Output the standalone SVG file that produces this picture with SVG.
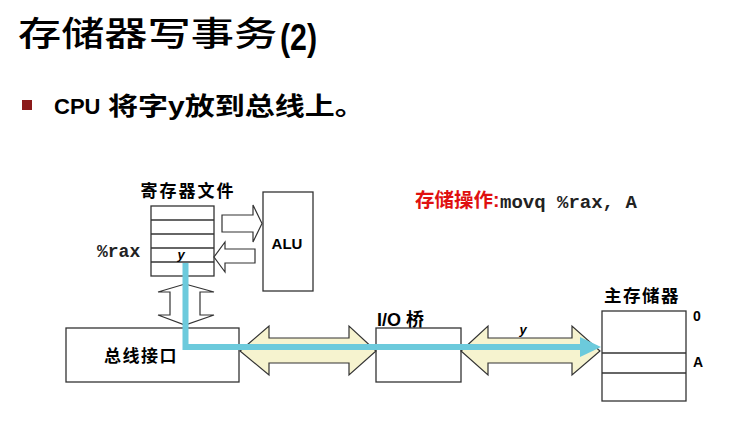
<svg xmlns="http://www.w3.org/2000/svg" width="756" height="423" viewBox="0 0 756 423">
<defs>
<style>
.box{fill:#fff;stroke:#333;stroke-width:1.3}
.rule{stroke:#333;stroke-width:1.3}
.cn{font-family:"Noto Sans CJK SC","Liberation Sans",sans-serif;font-weight:bold;fill:#000}
.lat{font-family:"Liberation Sans","Noto Sans CJK SC",sans-serif;font-weight:bold;fill:#000}
.mono{font-family:"Liberation Mono","Noto Sans CJK SC",monospace;font-weight:bold;fill:#222}
.harrow{fill:#F6F3CF;stroke:#333;stroke-width:1.2}
.warrow{fill:#fff;stroke:#333;stroke-width:1.2}
</style>
</defs>
<rect width="756" height="423" fill="#fff"/>
<text transform="translate(18,46) scale(1.27,1)" font-family="Noto Sans CJK SC,sans-serif" font-weight="500" font-size="34" fill="#000">存储器写事务</text>
<text transform="translate(280,50) scale(0.82,1)" class="lat" font-size="37">(2)</text>
<rect x="22" y="100" width="10" height="10" fill="#8B1A1A"/>
<text x="54" y="114" class="lat" font-size="22">CPU</text>
<text transform="translate(108,115) scale(1.2,1)" class="cn" font-size="25">将字<tspan font-family="Liberation Sans,sans-serif">y</tspan>放到总线上。</text>

<g id="label-op">
<text x="415" y="207" font-family="Noto Sans CJK SC,sans-serif" font-weight="bold" font-size="19.5" fill="#E01010">存储操作<tspan font-family="Liberation Sans,sans-serif">:</tspan></text>
<text x="500" y="208" class="mono" font-size="19">movq %rax, A</text>
</g>

<g id="regfile">
<text x="188" y="197" class="cn" font-size="17" letter-spacing="2" text-anchor="middle">寄存器文件</text>
<rect class="box" x="151" y="206" width="63" height="70"/>
<line class="rule" x1="151" y1="220" x2="214" y2="220"/>
<line class="rule" x1="151" y1="234" x2="214" y2="234"/>
<line class="rule" x1="151" y1="248" x2="214" y2="248"/>
<line class="rule" x1="151" y1="262" x2="214" y2="262"/>
<text x="97" y="257" class="mono" font-size="18">%rax</text>
<text x="181" y="259" class="lat" font-style="italic" font-size="13" text-anchor="middle">y</text>
</g>

<g id="alu">
<rect class="box" x="263" y="192" width="50" height="99"/>
<text x="287" y="249" class="lat" font-size="15" text-anchor="middle">ALU</text>
</g>

<g id="bus-interface">
<rect class="box" x="66" y="328" width="173" height="54"/>
<text x="141" y="362" class="cn" font-size="17" letter-spacing="1.5" text-anchor="middle">总线接口</text>
</g>

<g id="io-bridge">
<text x="377" y="326" class="lat" font-size="18">I/O <tspan font-family="Noto Sans CJK SC,sans-serif">桥</tspan></text>
<rect class="box" x="376" y="328" width="85" height="54"/>
</g>

<g id="main-memory">
<text x="642" y="302" class="cn" font-size="17.5" letter-spacing="1.5" text-anchor="middle">主存储器</text>
<rect class="box" x="602" y="311" width="84" height="90"/>
<line class="rule" x1="602" y1="353" x2="686" y2="353"/>
<line class="rule" x1="602" y1="373" x2="686" y2="373"/>
<text x="693" y="321" class="lat" font-size="14">0</text>
<text x="693" y="367" class="lat" font-size="14">A</text>
</g>

<g id="connectors">
<polygon class="warrow" points="222,215 253,215 253,205 262,223.5 253,242 253,232 222,232"/>
<polygon class="warrow" points="255,249 225,249 225,242 214,257 225,272 225,263 255,263"/>
<polygon class="warrow" points="185,284 214,292 200,292 200,315 214,315 185,325 158,315 170,315 170,292 158,292"/>
<polygon class="harrow" points="240,351 269,326 269,338 349,338 349,326 376,351 349,375 349,363 269,363 269,375"/>
<polygon class="harrow" points="461,351 488,326 488,338 572,338 572,326 600,351 572,375 572,363 488,363 488,375"/>
<text x="523" y="334" class="lat" font-style="italic" font-size="13" text-anchor="middle">y</text>
<polyline points="185.5,263 185.5,347 582,347" fill="none" stroke="#6CCADC" stroke-width="6"/>
<polygon points="580,337 601,347 580,357" fill="#6CCADC"/>
</g>
</svg>
